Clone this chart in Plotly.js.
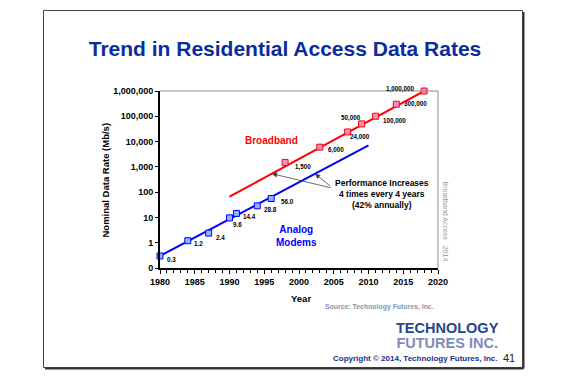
<!DOCTYPE html>
<html>
<head>
<meta charset="utf-8">
<script src="https://cdn.plot.ly/plotly-3.0.1.min.js"></script>
<style>
  html, body { margin: 0; padding: 0; background: #ffffff; }
  #chart { width: 569px; height: 390px; }
</style>
</head>
<body>
<div id="chart"></div>
<script>
// ---------------- data ----------------
const analogYears = [1980, 1984, 1987, 1990, 1991, 1994, 1996];
const analogRates = [0.3, 1.2, 2.4, 9.6, 14.4, 28.8, 56.0];
const analogLabels = ["0.3", "1.2", "2.4", "9.6", "14.4", "28.8", "56.0"];

const broadbandYears = [1998, 2003, 2007, 2009, 2011, 2014, 2018];
const broadbandRates = [1500, 6000, 24000, 50000, 100000, 300000, 1000000];
const broadbandLabels = ["1,500", "6,000", "24,000", "50,000", "100,000", "300,000", "1,000,000"];

const analogTrendYears = [1980, 2010];
const analogTrendRates = [0.3, 7000];
const broadbandTrendYears = [1990, 2018];
const broadbandTrendRates = [66, 1000000];

const yTickVals = [0.1, 1, 10, 100, 1000, 10000, 100000, 1000000];
const yTickText = ["0", "1", "10", "100", "1,000", "10,000", "100,000", "1,000,000"];

// arrow target years on the trend lines
const arrowYearBroadband = 1996.1;
const arrowYearAnalog = 2002.3;

// ---------------- styling / layout helpers ----------------
const FONT = "Liberation Sans, Arial, Helvetica, sans-serif";
const L = 160, R = 131, T = 91, B = 122, W = 569, H = 390;
const PW = W - L - R, PH = H - T - B;
const px = X => (X - L) / PW;
const py = Y => (H - B - Y) / PH;

// label offsets (pixels, x right, y up) from their marker
const analogLabelShift = [[11, -3.3], [11, -3], [11.7, -4.3], [8, -6.7], [13, -2.7], [12.7, -4], [16, -3]];
const broadbandLabelShift = [[18.3, -4.4], [16.3, -2.7], [12, -4.7], [-10.7, 6.3], [19.3, -4.7], [19, 0], [-23.3, 2.3]];

function onLineLog(xs, ys, x) {
  const t = (x - xs[0]) / (xs[1] - xs[0]);
  const l0 = Math.log10(ys[0]), l1 = Math.log10(ys[1]);
  return l0 + t * (l1 - l0);
}

const traces = [
  {
    x: broadbandTrendYears, y: broadbandTrendRates, mode: "lines",
    line: { color: "#ff0000", width: 2 }, hoverinfo: "skip", showlegend: false
  },
  {
    x: analogTrendYears, y: analogTrendRates, mode: "lines",
    line: { color: "#0000ff", width: 2 }, hoverinfo: "skip", showlegend: false
  },
  {
    x: broadbandYears, y: broadbandRates, mode: "markers", cliponaxis: false,
    marker: { symbol: "square", size: 6, color: "#f58cc8", line: { color: "#ff0000", width: 1 } },
    showlegend: false
  },
  {
    x: analogYears, y: analogRates, mode: "markers", cliponaxis: false,
    marker: { symbol: "square", size: 6, color: "#8fb4ff", line: { color: "#0000ff", width: 1 } },
    showlegend: false
  }
];

const annotations = [];
function labelAnn(xv, yv, txt, sh) {
  annotations.push({
    x: xv, y: Math.log10(yv), xref: "x", yref: "y", text: txt, showarrow: false,
    xshift: sh[0], yshift: sh[1], xanchor: "center", yanchor: "middle",
    font: { family: FONT, size: 6.3, color: "#000", weight: "bold" }
  });
}
analogYears.forEach((yr, i) => labelAnn(yr, analogRates[i], analogLabels[i], analogLabelShift[i]));
broadbandYears.forEach((yr, i) => labelAnn(yr, broadbandRates[i], broadbandLabels[i], broadbandLabelShift[i]));

// arrows
annotations.push({
  x: arrowYearBroadband, y: onLineLog(broadbandTrendYears, broadbandTrendRates, arrowYearBroadband),
  xref: "x", yref: "y", text: "", showarrow: true, arrowhead: 2, arrowsize: 1.3, arrowwidth: 0.8,
  arrowcolor: "#444", ax: 60, ay: 14.4, standoff: 0
});
annotations.push({
  x: arrowYearAnalog, y: onLineLog(analogTrendYears, analogTrendRates, arrowYearAnalog),
  xref: "x", yref: "y", text: "", showarrow: true, arrowhead: 2, arrowsize: 1.3, arrowwidth: 0.8,
  arrowcolor: "#444", ax: 16.7, ay: 13.4, standoff: 0
});

function textAnn(X, Y, txt, font, extra) {
  annotations.push(Object.assign({
    x: px(X), y: py(Y), xref: "paper", yref: "paper", text: txt, showarrow: false,
    xanchor: "center", yanchor: "middle", font: Object.assign({ family: FONT }, font)
  }, extra || {}));
}

textAnn(271.7, 140.7, "Broadband", { size: 10, color: "#ff0000", weight: "bold" });
textAnn(296, 235.5, "Analog<br>Modems", { size: 10, color: "#0000ff", weight: "bold" });
textAnn(381.5, 194, "Performance Increases<br>4 times every 4 years<br>(42% annually)",
  { size: 8.5, color: "#000", weight: "bold" });
textAnn(105, 180.5, "Nominal Data Rate (Mb/s)", { size: 9.5, color: "#000", weight: "bold" }, { textangle: -90 });
textAnn(300.5, 298.3, "Year", { size: 9.5, color: "#000", weight: "bold" });
textAnn(379.3, 306.7, "Source: Technology Futures, Inc.", { size: 6.9, color: "#8894ae", weight: "bold" });
textAnn(445, 221.5, "Broadband Access\u00a0\u00a0 2014", { size: 7, color: "#9a9a9a" }, { textangle: 90 });
// logo: one two-line text, line spacing set by the base size, letters enlarged by span style
textAnn(447.5, 335.5,
  "<span style='font-size:14.5px;fill:#24478a'>TECHNOLOGY</span><br>" +
  "<span style='font-size:14.5px;fill:#7f8bb8'>FUTURES INC.</span>",
  { size: 11.5, color: "#24478a", weight: "bold" });
textAnn(414.5, 358, "Copyright \u00a9 2014, Technology Futures, Inc.", { size: 8, color: "#1c2d8c", weight: "bold" });
textAnn(509, 358, "41", { size: 11, color: "#222" });

const shapes = [
  // slide frame
  { type: "rect", xref: "paper", yref: "paper", x0: px(43.5), x1: px(522.5), y0: py(367.5), y1: py(10.5),
    line: { color: "#444", width: 1 }, layer: "below" },
  { type: "line", xref: "paper", yref: "paper", x0: px(45), x1: px(523.5), y0: py(368.5), y1: py(368.5),
    line: { color: "#333", width: 2 } },
  { type: "line", xref: "paper", yref: "paper", x0: px(523.5), x1: px(523.5), y0: py(12), y1: py(368.5),
    line: { color: "#333", width: 2 } },
  // plot area top / right frame
  { type: "line", xref: "paper", yref: "paper", x0: 0, x1: 1, y0: 1, y1: 1, line: { color: "#8c8c8c", width: 1 } },
  { type: "line", xref: "paper", yref: "paper", x0: 1, x1: 1, y0: 0, y1: 1, line: { color: "#8c8c8c", width: 1 } }
];

const layout = {
  width: W, height: H,
  margin: { l: L, r: R, t: T, b: B, pad: 0 },
  paper_bgcolor: "#ffffff", plot_bgcolor: "#ffffff",
  showlegend: false,
  title: {
    text: "Trend in Residential Access Data Rates",
    font: { family: FONT, size: 21, color: "#0b2c9e", weight: "bold" },
    x: 285 / W, xref: "container", xanchor: "center",
    y: 1 - 48.5 / H, yref: "container", yanchor: "middle"
  },
  xaxis: {
    type: "linear", range: [1980, 2020], tickmode: "linear", tick0: 1980, dtick: 5,
    showgrid: false, zeroline: false, showline: true, linecolor: "#000", linewidth: 2,
    ticks: "outside", ticklen: 4, tickwidth: 1, tickcolor: "#000",
    minor: { dtick: 1, ticks: "outside", ticklen: 2.5, tickwidth: 1, tickcolor: "#000" },
    tickfont: { family: FONT, size: 9, color: "#000", weight: "bold" },
    fixedrange: true
  },
  yaxis: {
    type: "log", range: [-1, 6], tickmode: "array", tickvals: yTickVals, ticktext: yTickText,
    showgrid: false, zeroline: false, showline: true, linecolor: "#000", linewidth: 2,
    ticks: "outside", ticklen: 3, tickwidth: 1, tickcolor: "#000",
    tickfont: { family: FONT, size: 9, color: "#000", weight: "bold" },
    fixedrange: true
  },
  annotations: annotations,
  shapes: shapes
};

Plotly.newPlot("chart", traces, layout, { staticPlot: true, displayModeBar: false });
</script>
</body>
</html>
